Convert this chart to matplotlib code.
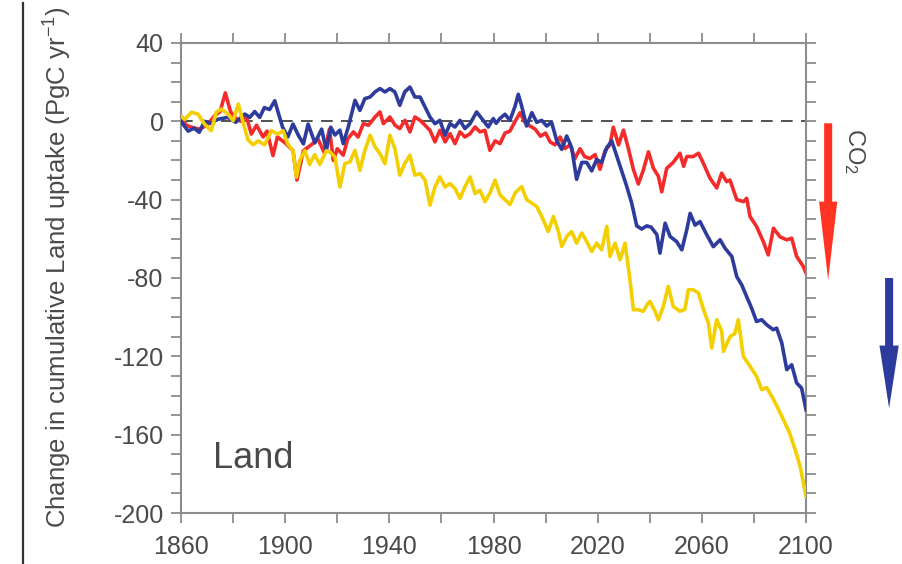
import matplotlib
matplotlib.use("Agg")
import matplotlib.pyplot as plt
from matplotlib.lines import Line2D
from matplotlib.patches import FancyArrow

plt.rcParams['font.family'] = ['Liberation Sans', 'DejaVu Sans']
plt.rcParams['mathtext.default'] = 'regular'
plt.rcParams['axes.unicode_minus'] = False

# Cumulative land uptake change (PgC), three model runs
red_years = [1860, 1862, 1864, 1867, 1870, 1873, 1875, 1877, 1879, 1880.6, 1883, 1885, 1887, 1889,
             1891.5, 1893, 1895.3, 1897, 1900, 1903, 1904.5, 1907, 1910, 1912.6, 1915, 1917, 1918.5,
             1920, 1922.3, 1924, 1926.2, 1928, 1930, 1932, 1934.5, 1936.4, 1937.7, 1940.2, 1942.2,
             1944, 1946, 1947.9, 1949.8, 1951.8, 1953.7, 1955.6, 1957.5, 1959.4, 1961.4, 1963.3,
             1965.2, 1967.1, 1969, 1971, 1972.9, 1974.8, 1976.7, 1978.6, 1980.6, 1982.5, 1984.4,
             1986.3, 1988.3, 1990.2, 1992, 1994, 1996, 1998, 2000, 2001.7, 2003.6, 2005.6, 2007.5,
             2009.4, 2011.3, 2013.2, 2015, 2017, 2019, 2020.9, 2022.8, 2024.7, 2026, 2028, 2029.9,
             2031.8, 2033.7, 2035.6, 2037.5, 2039.5, 2041.4, 2043.3, 2044.6, 2046.5, 2049, 2051.6,
             2053, 2054.2, 2056.7, 2058.7, 2060.6, 2063.1, 2065.7, 2067.6, 2069.5, 2070.8, 2073.4,
             2076, 2077.2, 2078.5, 2081, 2083.6, 2085.5, 2087.5, 2090, 2092.6, 2094.5, 2096.4,
             2098.9, 2100]
red_vals = [2.5, -2, -3, -4, -2, 3, 5, 14.5, 5, 2, 0, 3, -6.5, -2,
            -8, -5, -17.5, -8, -11, -15, -30, -15, -12, -9, -16, -4, -20,
            -14, -17.3, -9, -5.4, -8, -1.2, -2, 2.2, 4.8, -1.2, 2.2, -2,
            -3.7, 0.5, -5.4, 2.2, 0.5, -2, -4.6, -10.5, -4.6, -10.5, -6.3,
            -11.4, -5.4, -8, -6.3, -2.9, -5.4, -4.6, -14.8, -10, -11.4, -6,
            -5, 0, 4.4, -0.5, -2.4, -4, -7.6, -6, -10.5, -12, -8, -13.9,
            -12, -19, -14, -18, -19, -17, -24.5, -15, -12, -3, -12, -4.5,
            -14, -24.5, -32, -25, -15.6, -24, -28, -36, -24, -21, -16.3,
            -23, -18, -18, -16.3, -21.5, -29, -34, -26.5, -30.8, -30, -40,
            -41, -39.3, -48.6, -53.7, -61.4, -68.2, -54.6, -59, -60.5, -59.7, -69,
            -74, -77.5]

blue_years = [1860, 1862.7, 1865, 1867, 1869, 1871.5, 1874, 1878, 1881, 1884.5, 1886.4, 1888.3,
              1890.2, 1892, 1894, 1896, 1897.3, 1899, 1901, 1903, 1905, 1907, 1908.8, 1911.4,
              1914, 1915.8, 1917.5, 1919.1, 1921, 1922.3, 1924.2, 1926.8, 1928.7, 1930.6, 1932.6,
              1934.5, 1936.4, 1938.3, 1940.2, 1942.1, 1944, 1945.9, 1947.9, 1949.8, 1951.8, 1953.7,
              1955.6, 1957.5, 1959.4, 1961.4, 1963.3, 1965.2, 1967.1, 1969, 1971, 1973.5, 1976,
              1978, 1979.9, 1981, 1982.5, 1984.4, 1986.3, 1988.3, 1989.5, 1990.8, 1992.7, 1994.7,
              1996.6, 1998.5, 2000.4, 2002.3, 2004.3, 2006.2, 2008.1, 2010, 2011.9, 2013.9, 2015.8,
              2017.7, 2019.6, 2021.5, 2023.5, 2025.4, 2027.3, 2029.2, 2031.1, 2033, 2035, 2036.9,
              2038.8, 2040.5, 2042.7, 2043.9, 2045.9, 2047.8, 2050.3, 2052.3, 2054.2, 2055.5,
              2057.4, 2059.3, 2061.9, 2064.4, 2067, 2068.9, 2071.5, 2073.4, 2075.3, 2077.2, 2079.1,
              2081, 2083, 2084.9, 2087.4, 2088.7, 2090.7, 2092.6, 2094.5, 2096.4, 2098.3, 2100]
blue_vals = [0, -5, -3.5, -5.6, 0, -1, 1, 2, -0.5, 3.7, 2, 5,
             2, 7, 6, 10.5, 4.5, -3, -8, -1.4, -7, -11.5, -1.4, -11,
             -4, -15, -3, -7, -4.5, -11.4, -3, 10.7, 5.6, 11.6, 12.4,
             15, 16.7, 15, 16.7, 15, 8.2, 15, 17.5, 12.4, 12.4, 7.3,
             2.2, -1.2, 0.5, -7.1, -1.2, -2.9, 0.5, -3.7, -1.2, 4.8, 0.5,
             -2.9, 1.4, -1, 1.5, 3.6, 0.5, 7.8, 13.8, 7.8, -2.4, 4.4,
             -0.5, 0.5, -2.4, -0.5, -10, -14.3, -7.5, -13.4, -29.6, -21, -21,
             -25.3, -19.5, -21, -13.4, -10, -17.7, -25.3, -33, -41.5, -53.4, -55,
             -53.4, -54, -57.8, -67.3, -52, -58.8, -61.4, -65.6, -55.4, -47,
             -53, -51.2, -58, -64, -60.5, -64.8, -69, -79.3, -83.5, -89.5, -95.4,
             -102.2, -101.3, -103.9, -106.4, -105.6, -113.2, -126.8, -124.3, -133.6, -136.2, -147.3]

yellow_years = [1860, 1861.4, 1864, 1866.5, 1869, 1871.6, 1873.5, 1875.5, 1878, 1880, 1882, 1884,
                1885.7, 1887.7, 1889.6, 1892.1, 1894.7, 1897.2, 1899.2, 1901, 1903, 1904.3, 1905.6,
                1907.5, 1909.4, 1911.3, 1913.3, 1915.8, 1917.5, 1919.1, 1921, 1922.9, 1924.9,
                1926.8, 1928.7, 1930.6, 1932.6, 1934.5, 1936.4, 1938.3, 1940.2, 1942.1, 1944,
                1945.9, 1947.9, 1949.8, 1951.8, 1953.7, 1955.6, 1957.5, 1959.4, 1961.4, 1963.3,
                1965.2, 1967.1, 1969, 1971, 1972.9, 1974.8, 1976.7, 1978.7, 1980.6, 1982.5, 1984.4,
                1986.3, 1988.3, 1990.8, 1992.7, 1994.7, 1996.6, 1999.1, 2001, 2003, 2004.9, 2006.2,
                2008.1, 2010, 2011.9, 2013.9, 2015.8, 2017.7, 2019.6, 2021.5, 2023.5, 2024.7,
                2026.7, 2028.6, 2030.5, 2032.4, 2033.7, 2035.6, 2037.5, 2039.4, 2040.1, 2042,
                2043.3, 2045.2, 2047.1, 2049, 2051.6, 2053.5, 2054.8, 2056.7, 2058.7, 2060.6,
                2062.5, 2063.8, 2065.7, 2067.6, 2068.3, 2070.8, 2072.7, 2074, 2075.9, 2078.5, 2081,
                2083, 2084.9, 2087.5, 2089.4, 2091.9, 2093.8, 2095.8, 2097.7, 2100]
yellow_vals = [2.5, 1, 4.6, 3.7, -1.4, -4.8, 4.6, 6.3, 3.7, 0.3, 8.8, -1.4,
               -9.4, -12, -10, -12, -4.8, -6.5, -4.8, -11.6, -15, -28.5, -20,
               -15, -22, -17, -22, -15, -16, -18.3, -33.5, -21.6, -20.7,
               -14.8, -25, -14.8, -7.1, -13.1, -16.5, -21.6, -7.1, -13.9, -27.5,
               -21.6, -17.3, -27.5, -26.7, -30, -42.8, -33.5, -28.4, -33.5, -31.8,
               -34.3, -39.4, -33.5, -28.4, -36.9, -35.2, -41, -36.5, -30, -37.6, -40,
               -42.5, -36.6, -33.3, -40, -41.8, -43.5, -50.3, -56.3, -48.6, -56.3, -63.9,
               -58.8, -56.3, -62.2, -57, -61.4, -66.5, -62.2, -65.6, -53.7, -69,
               -62.2, -70.7, -62.2, -80.9, -96.2, -96.2, -97, -92.7, -92, -97,
               -101.4, -94.5, -84.3, -94.5, -97, -96, -86, -86, -87.7, -96,
               -103, -115.8, -101.3, -107, -117.5, -110, -108.3, -101.3, -120, -125.1, -130.2,
               -137, -136, -142, -147, -154, -159.5, -167.6, -176, -191.4]

x_major = [1860, 1900, 1940, 1980, 2020, 2060, 2100]
y_major = [40, 0, -40, -80, -120, -160, -200]

RED = '#f42b2b'
BLUE = '#2d3c9c'
YELLOW = '#f4cf00'
AXIS_GREY = '#8c8c8c'
TEXT_GREY = '#4a4a4a'

fig = plt.figure(figsize=(9.02, 5.64), dpi=100)
ax = fig.add_axes([0.2007, 0.0904, 0.6929, 0.8334])

ax.axhline(0, color='#333333', lw=1.2, dashes=(7, 5), zorder=1)
ax.plot(red_years, red_vals, color=RED, lw=2.6, zorder=2)
ax.plot(blue_years, blue_vals, color=BLUE, lw=2.6, zorder=3)
ax.plot(yellow_years, yellow_vals, color=YELLOW, lw=2.6, zorder=4)

ax.set_xlim(1860, 2100)
ax.set_ylim(-200, 40)

for s in ax.spines.values():
    s.set_color(AXIS_GREY)
    s.set_linewidth(1.5)

ax.set_xticks(x_major)
ax.set_xticks(range(1860, 2101, 20), minor=True)
ax.set_yticks(y_major)
ax.set_yticks(range(-200, 41, 10), minor=True)

ax.tick_params(axis='x', which='both', direction='out', length=7.5, width=1.3,
               color=AXIS_GREY, top=True, bottom=True, labelsize=18,
               labelcolor=TEXT_GREY, pad=8)
ax.tick_params(axis='y', which='both', direction='out', length=7.5, width=1.3,
               color=AXIS_GREY, left=True, right=True, labelsize=18,
               labelcolor=TEXT_GREY, pad=5)

ax.set_ylabel('Change in cumulative Land uptake (PgC yr$^{-1}$)', fontsize=18.5,
              color=TEXT_GREY)
ax.yaxis.set_label_coords(-0.172, 0.523)

ax.text(0.051, 0.096, 'Land', transform=ax.transAxes, fontsize=26, color=TEXT_GREY,
        ha='left', va='baseline')

# Direction arrows beside the right axis
ax.add_patch(FancyArrow(2108.5, -1, 0, -80, width=3.1, head_width=7.0, head_length=40,
                        length_includes_head=True, color='#ff3322', clip_on=False, lw=0))
ax.add_patch(FancyArrow(2131.9, -80, 0, -66.5, width=3.1, head_width=7.4, head_length=32,
                        length_includes_head=True, color=BLUE, clip_on=False, lw=0))
ax.text(1.078, 0.82, 'CO$_2$', transform=ax.transAxes, rotation=-90, fontsize=17,
        color=TEXT_GREY, ha='center', va='top')

fig.add_artist(Line2D([0.0255, 0.0255], [0.0, 0.995], transform=fig.transFigure,
                      color='#333333', lw=1.6))

fig.savefig('out.png', dpi=100)
